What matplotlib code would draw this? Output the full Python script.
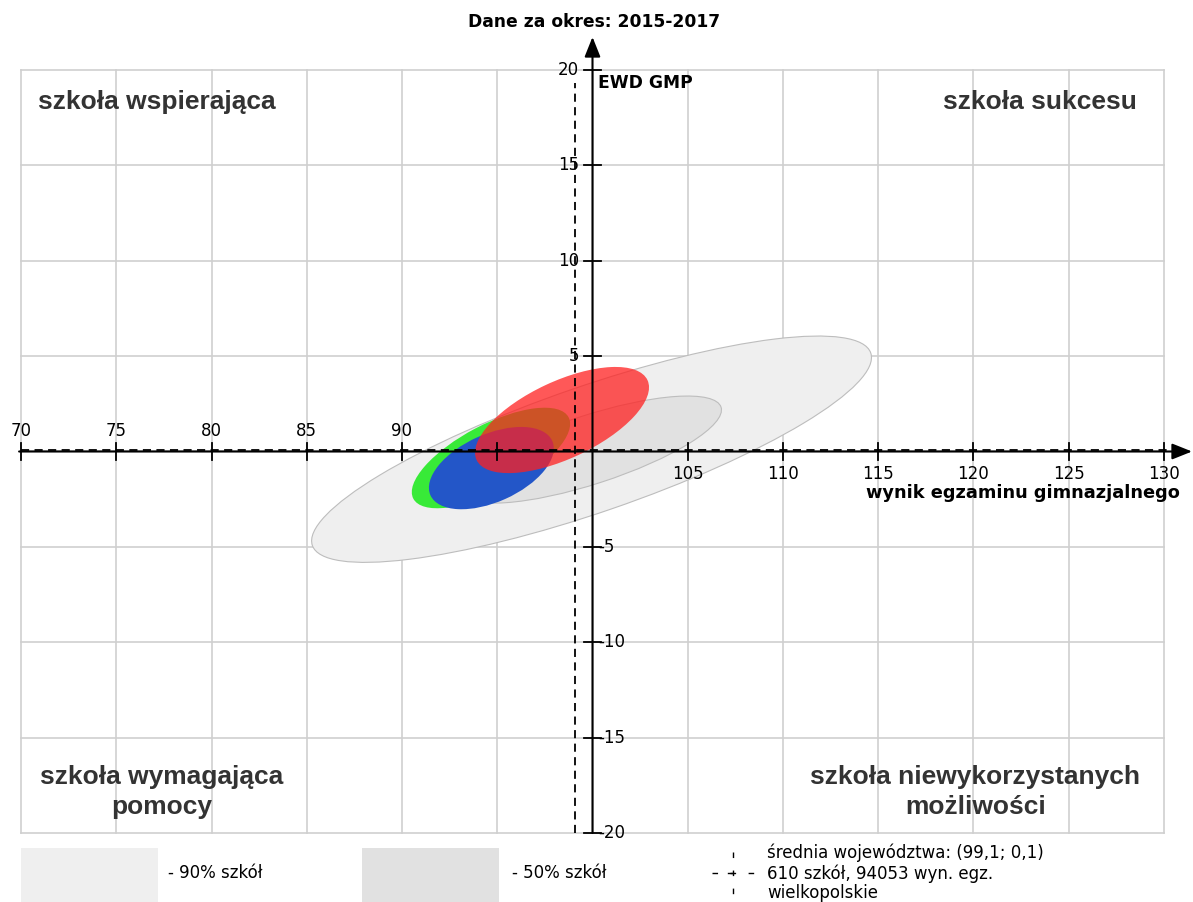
import matplotlib
matplotlib.use("Agg")
import matplotlib.pyplot as plt
from matplotlib.patches import Ellipse, Rectangle

# dane
x_ticks = [70, 75, 80, 85, 90, 95, 100, 105, 110, 115, 120, 125, 130]
y_ticks = [-20, -15, -10, -5, 0, 5, 10, 15, 20]
x_axis_at = 100
mean_x = 99.1
mean_y = 0.1
n_schools = 610
n_results = 94053
region = "wielkopolskie"
period = "2015-2017"

# obszary dla szkół w województwie (90% i 50%)
band_labels = ["- 90% szkół", "- 50% szkół"]
band_cx = [99.95, 99.9]
band_cy = [0.12, 0.1]
band_w = [31.0, 14.4]
band_h = [6.6, 3.6]
band_angle = [19, 18]

# elipsy szkoły (zielona, niebieska, czerwona)
ell_cx = [94.67, 94.69, 98.4]
ell_cy = [-0.34, -0.87, 1.65]
ell_w = [9.2, 7.0, 9.9]
ell_h = [3.5, 3.55, 4.05]
ell_angle = [27.6, 24, 25]

quadrant_labels = ["szkoła wspierająca", "szkoła sukcesu",
                   "szkoła wymagająca\npomocy", "szkoła niewykorzystanych\nmożliwości"]

# wygląd
band_colors = ["#efefef", "#e1e1e1"]
ell_colors = ["#38ea38", "#2356c8", "#ff2020"]
ell_alpha = [1.0, 1.0, 0.75]
grid_color = "#cfcfcf"
quad_color = "#333333"

W, H = 1193, 902
PX_X, PX_Y = 19.05, 19.075      # pikseli na jednostkę
X0_PX, Y0_PX = 21, 451.5        # piksel dla x=70, y=0


def fpos(px, py):
    # piksel -> ułamek osi
    return px / W, 1 - py / H


fig = plt.figure(figsize=(W / 100, H / 100), dpi=100)
ax = fig.add_axes([0, 0, 1, 1])
ax.set_xlim(70 - X0_PX / PX_X, 70 + (W - X0_PX) / PX_X)
ax.set_ylim(-(H - Y0_PX) / PX_Y, Y0_PX / PX_Y)
ax.axis("off")

xmin, xmax = x_ticks[0], x_ticks[-1]
ymin, ymax = y_ticks[0], y_ticks[-1]

# siatka
for xv in x_ticks:
    ax.plot([xv, xv], [ymin, ymax], color=grid_color, lw=1.2, zorder=1)
for yv in y_ticks:
    ax.plot([xmin, xmax], [yv, yv], color=grid_color, lw=1.2, zorder=1)

# obszary 90% / 50%
for i in range(len(band_cx)):
    ax.add_patch(Ellipse((band_cx[i], band_cy[i]), band_w[i], band_h[i],
                         angle=band_angle[i], facecolor=band_colors[i],
                         edgecolor="#bdbdbd", lw=0.8, zorder=2))

# elipsy szkoły
for i in range(len(ell_cx)):
    ax.add_patch(Ellipse((ell_cx[i], ell_cy[i]), ell_w[i], ell_h[i],
                         angle=ell_angle[i], facecolor=ell_colors[i],
                         alpha=ell_alpha[i], lw=0, zorder=3 + i))

# średnia województwa
ax.plot([xmin, xmax + 1], [mean_y, mean_y], color="black", lw=1.3,
        ls=(0, (4.5, 3)), zorder=7)
ax.plot([mean_x, mean_x], [ymin, ymax - 0.7], color="black", lw=1.3,
        ls=(0, (4.5, 3)), zorder=7)

# osie ze strzałkami
arrow = dict(arrowstyle="-|>,head_length=0.55,head_width=0.22", color="black",
             lw=1.5, shrinkA=0, shrinkB=0, mutation_scale=22)
ax.annotate("", xy=(70 + (W - 1 - X0_PX) / PX_X, 0), xytext=(xmin - 0.1, 0),
            arrowprops=arrow, zorder=8)
ax.annotate("", xy=(x_axis_at, (Y0_PX - 37) / PX_Y), xytext=(x_axis_at, ymin),
            arrowprops=arrow, zorder=8)

tl = 0.47
for xv in x_ticks:
    if xv == x_axis_at:
        continue
    ax.plot([xv, xv], [-tl, tl], color="black", lw=1.3, zorder=8)
    # etykiety nad szarymi obszarami, ale pod elipsami szkoły ("95" zasłonięte)
    if xv < x_axis_at:
        ax.text(xv, 0.6, str(xv), ha="center", va="bottom", fontsize=12, zorder=2.5)
    else:
        ax.text(xv, -0.7, str(xv), ha="center", va="top", fontsize=12, zorder=2.5)

for yv in y_ticks:
    if yv == 0:
        continue
    ax.plot([x_axis_at - tl, x_axis_at + tl], [yv, yv], color="black", lw=1.3, zorder=8)
    if yv > 0:
        ax.text(x_axis_at - 0.7, yv, str(yv), ha="right", va="center", fontsize=12, zorder=9)
    else:
        ax.text(x_axis_at + 0.3, yv, str(yv), ha="left", va="center", fontsize=12, zorder=9)

ax.text(x_axis_at + 0.3, 19.3, "EWD GMP", ha="left", va="center",
        fontsize=12.3, fontweight="bold", zorder=9)
ax.text(130.84, -2.2, "wynik egzaminu gimnazjalnego", ha="right", va="center",
        fontsize=12.8, fontweight="bold", zorder=9)
ax.text(*fpos(594, 22), "Dane za okres: " + period, transform=ax.transAxes,
        ha="center", va="center", fontsize=12.3, fontweight="bold")

# ćwiartki
qfont = dict(family="Liberation Sans", fontweight="bold", fontsize=19, color=quad_color, zorder=9)
ax.text(70.9, 18.3, quadrant_labels[0], ha="left", va="center", **qfont)
ax.text(128.6, 18.3, quadrant_labels[1], ha="right", va="center", **qfont)
ax.text(77.4, -17.85, quadrant_labels[2], ha="center", va="center",
        linespacing=1.3, **qfont)
ax.text(120.1, -17.85, quadrant_labels[3], ha="center", va="center",
        linespacing=1.3, **qfont)

# legenda
rect_px = [21, 362]
text_px = [168, 512]
for i in range(2):
    x0, y0 = fpos(rect_px[i], H)
    ax.add_patch(Rectangle((x0, y0), 137 / W, 54 / H, transform=ax.transAxes,
                           facecolor=band_colors[i], edgecolor="none"))
    ax.text(*fpos(text_px[i], 873), band_labels[i], transform=ax.transAxes,
            ha="left", va="center", fontsize=12)

cx, cy = fpos(733, 873)
ax.plot([cx, cx], [1 - 852 / H, 0], transform=ax.transAxes, color="black",
        lw=1.0, ls=(0, (4, 9)))
ax.plot([712 / W, 756 / W], [cy, cy], transform=ax.transAxes, color="black",
        lw=1.0, ls=(0, (4, 9)))
ax.plot([cx, 728 / W], [cy, cy], transform=ax.transAxes, color="black", lw=1.0)
legend_txt = (f"średnia województwa: ({mean_x:.1f}; {mean_y:.1f})".replace(".", ",")
              + f"\n{n_schools} szkół, {n_results} wyn. egz.\n{region}")
ax.text(*fpos(767, 873), legend_txt, transform=ax.transAxes, ha="left",
        va="center", fontsize=12, linespacing=1.12)

fig.savefig("out.png", dpi=100)
